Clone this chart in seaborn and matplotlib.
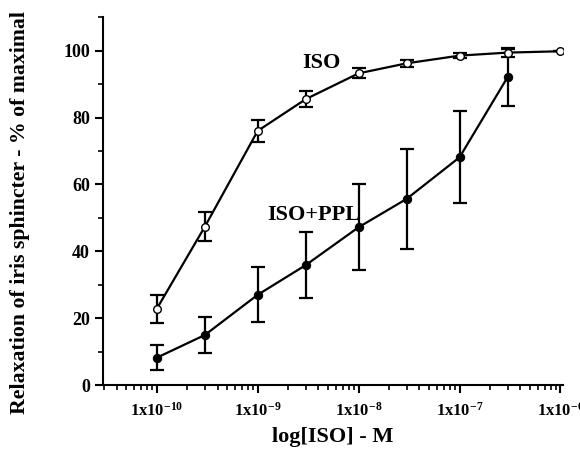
import numpy as np
import pandas as pd
import matplotlib
matplotlib.use("Agg")
import matplotlib.pyplot as plt
import seaborn as sns
from matplotlib.ticker import LogLocator, MultipleLocator, FixedLocator, FixedFormatter, NullFormatter

iso_conc = [1e-10, 3e-10, 1e-9, 3e-9, 1e-8, 3e-8, 1e-7, 3e-7, 1e-6]
iso_mean = [22.8, 47.4, 76.0, 85.5, 93.2, 96.2, 98.5, 99.4, 99.8]
iso_sem = [4.2, 4.4, 3.4, 2.3, 1.5, 1.0, 0.8, 1.2, 0.0]

ppl_conc = [1e-10, 3e-10, 1e-9, 3e-9, 1e-8, 3e-8, 1e-7, 3e-7]
ppl_mean = [8.2, 15.0, 27.0, 35.9, 47.2, 55.7, 68.1, 92.1]
ppl_sem = [3.8, 5.4, 8.2, 9.9, 12.9, 15.0, 13.7, 8.7]

xtick_vals = [1e-10, 1e-9, 1e-8, 1e-7, 1e-6]
xtick_labels = [r"1x10$^{\mathbf{-10}}$", r"1x10$^{\mathbf{-9}}$", r"1x10$^{\mathbf{-8}}$",
                r"1x10$^{\mathbf{-7}}$", r"1x10$^{\mathbf{-6}}$"]
ytick_vals = [0, 20, 40, 60, 80, 100]

sns.set_style("ticks")
plt.rcParams['font.family'] = ['Liberation Serif', 'DejaVu Serif']
plt.rcParams['font.weight'] = 'bold'
plt.rcParams['text.color'] = 'black'
plt.rcParams['axes.labelcolor'] = 'black'
plt.rcParams['xtick.color'] = 'black'
plt.rcParams['ytick.color'] = 'black'
plt.rcParams['mathtext.fontset'] = 'custom'
plt.rcParams['mathtext.rm'] = 'Liberation Serif:bold'
plt.rcParams['mathtext.bf'] = 'Liberation Serif:bold'
plt.rcParams['mathtext.default'] = 'bf'

fig = plt.figure(figsize=(5.8, 4.51), dpi=100)
ax = fig.add_axes([0.178, 0.146, 0.792, 0.816])

df_iso = pd.DataFrame({"x": iso_conc, "y": iso_mean})
df_ppl = pd.DataFrame({"x": ppl_conc, "y": ppl_mean})

ax.errorbar(iso_conc, iso_mean, yerr=iso_sem, fmt='none', ecolor='black',
            elinewidth=1.6, capsize=5, capthick=1.6, zorder=2)
ax.errorbar(ppl_conc, ppl_mean, yerr=ppl_sem, fmt='none', ecolor='black',
            elinewidth=1.6, capsize=5, capthick=1.6, zorder=2)

sns.lineplot(data=df_ppl, x="x", y="y", ax=ax, color='black', linewidth=1.6,
             marker='o', markersize=6, markerfacecolor='black',
             markeredgecolor='black', zorder=3)
sns.lineplot(data=df_iso, x="x", y="y", ax=ax, color='black', linewidth=1.6,
             marker='o', markersize=5.5, markerfacecolor='white',
             markeredgecolor='black', markeredgewidth=1.0, zorder=4)

ax.set_xscale('log')
ax.set_xlim(2.95e-11, 1.05e-6)
ax.set_ylim(0, 110)

ax.xaxis.set_major_locator(FixedLocator(xtick_vals))
ax.xaxis.set_major_formatter(FixedFormatter(xtick_labels))
ax.xaxis.set_minor_locator(LogLocator(base=10, subs=np.arange(2, 10), numticks=20))
ax.xaxis.set_minor_formatter(NullFormatter())
ax.yaxis.set_major_locator(FixedLocator(ytick_vals))
ax.yaxis.set_minor_locator(MultipleLocator(10))

ax.tick_params(axis='both', which='major', direction='out', length=6, width=1.5,
               color='black', labelcolor='black')
ax.tick_params(axis='y', which='major', labelsize=13)
ax.tick_params(axis='x', which='major', labelsize=12, pad=6)
ax.tick_params(axis='both', which='minor', direction='out', length=3.5, width=1.2,
               color='black')
for lab in ax.get_yticklabels() + ax.get_xticklabels():
    lab.set_fontweight('bold')

sns.despine(ax=ax)
for s in ['left', 'bottom']:
    ax.spines[s].set_linewidth(1.5)
    ax.spines[s].set_color('black')

ax.set_xlabel("log[ISO] - M", fontsize=16, fontweight='bold', labelpad=5)
ax.set_ylabel("Relaxation of iris sphincter - % of maximal", fontsize=15.7,
              fontweight='bold')
ax.yaxis.set_label_coords(-0.159, 0.47)

ax.text(2.75e-9, 96.3, "ISO", fontsize=16, fontweight='bold', ha='left', va='center')
ax.text(1.23e-9, 50.8, "ISO+PPL", fontsize=16, fontweight='bold', ha='left', va='center')

ax.set_facecolor('white')
fig.patch.set_facecolor('white')
fig.savefig("out.png", dpi=100)
